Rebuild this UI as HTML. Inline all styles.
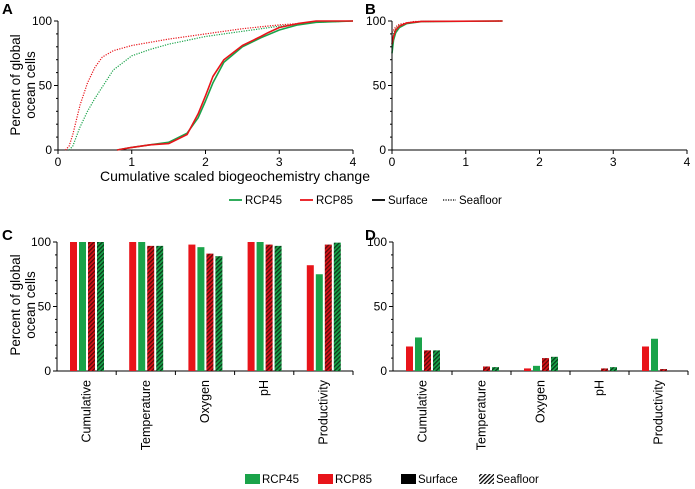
<!DOCTYPE html>
<html><head><meta charset="utf-8"><style>
body{margin:0;background:#fff;}
svg{display:block;font-family:"Liberation Sans",Arial,sans-serif;}
</style></head><body>
<svg id="fig" width="695" height="489" viewBox="0 0 695 489" xmlns="http://www.w3.org/2000/svg">
<defs>
<pattern id="hr" patternUnits="userSpaceOnUse" width="3" height="3" patternTransform="rotate(45)"><rect width="3" height="3" fill="#d8141a"/><rect width="1.3" height="3" fill="#5a0a0a"/></pattern>
<pattern id="hg" patternUnits="userSpaceOnUse" width="3" height="3" patternTransform="rotate(45)"><rect width="3" height="3" fill="#1aa34a"/><rect width="1.3" height="3" fill="#0a3a1a"/></pattern>
<pattern id="hk" patternUnits="userSpaceOnUse" width="3" height="3" patternTransform="rotate(45)"><rect width="3" height="3" fill="#fff"/><rect width="1.3" height="3" fill="#000"/></pattern>
</defs>
<g id="root"></g>
</svg>
<script>
// ---- Panel A data (x values, percent) ----
const aSurf45X=[0.8,1.0,1.25,1.5,1.75,1.9,2.0,2.1,2.25,2.5,2.75,3.0,3.25,3.5,4.0];
const aSurf45Y=[0,2,4,6,13,25,38,52,68,80,87,93,97,99,100];
const aSurf85X=[0.8,1.0,1.25,1.5,1.75,1.9,2.0,2.1,2.25,2.5,2.75,2.85,3.0,3.25,3.5,4.0];
const aSurf85Y=[0,2,4,5,12,28,42,57,70,81,88,91,95,98,100,100];
const aSea85X=[0.1,0.15,0.2,0.3,0.4,0.5,0.6,0.75,1.0,1.5,2.0,2.5,3.0,3.5,4.0];
const aSea85Y=[0,3,12,35,52,64,72,77,81,86,90,94,97,99,100];
const aSea45X=[0.15,0.2,0.3,0.4,0.5,0.75,1.0,1.25,1.5,2.0,2.5,3.0,3.5,4.0];
const aSea45Y=[0,3,18,30,40,62,73,78,82,88,92,96,99,100];
// ---- Panel B data ----
const bSurf45X=[0,0.02,0.05,0.1,0.2,0.4,1.5];
const bSurf45Y=[75,85,91,95,98,99.5,100];
const bSurf85X=[0,0.02,0.05,0.1,0.2,0.4,1.5];
const bSurf85Y=[82,88,93,96,98.5,99.7,100];
const bSea45X=[0,0.05,0.1,0.3,1.5];
const bSea45Y=[88,94,97,99.5,100];
const bSea85X=[0,0.05,0.1,0.3,1.5];
const bSea85Y=[91,95.5,97.5,99.6,100];
// ---- Bar data ----
const categories=["Cumulative","Temperature","Oxygen","pH","Productivity"];
const cRCP85Surf=[100,100,98,100,82];
const cRCP45Surf=[100,100,96,100,75];
const cRCP85Sea=[100,97,91,98,98];
const cRCP45Sea=[100,97,89,97,99.5];
const dRCP85Surf=[19,0,2,0,19];
const dRCP45Surf=[26,0,4,0,25];
const dRCP85Sea=[16,3.5,10,2,1.5];
const dRCP45Sea=[16,3,11,3,0];
const yTicks=[0,50,100];
const xTicks=[0,1,2,3,4];

const NS="http://www.w3.org/2000/svg";
const root=document.getElementById('root');
function mk(tag,attrs,parent){const e=document.createElementNS(NS,tag);for(const k in attrs)e.setAttribute(k,attrs[k]);(parent||root).appendChild(e);return e;}
function txt(s,attrs,parent){const e=mk('text',attrs,parent);e.textContent=s;return e;}
const RED="#e8141a",GREEN="#1aa34a";

function yAxis(x0,yTop,yBot,name){
  const g=mk('g',{});
  
  
  mk('line',{x1:x0,y1:yTop,x2:x0,y2:yBot,stroke:'#000','stroke-width':1},g);
  for(let v=0;v<=100;v+=10){const y=yBot-(yBot-yTop)*v/100;mk('line',{x1:x0-(v%50?2:4),y1:y,x2:x0,y2:y,stroke:'#000'},g);}
  yTicks.forEach(v=>{const y=yBot-(yBot-yTop)*v/100;const t=txt(String(v),{x:x0-6,y:y+4,'font-size':12,'text-anchor':'end'},g);
    
    });
}
function linePanel(x0,x4,yTop,yBot,series,label,pname,lx){
  const sx=v=>x0+(x4-x0)*v/4, sy=v=>yBot-(yBot-yTop)*v/100;
  const g=mk('g',{});
  
  
  yAxis(x0,yTop,yBot,pname+'-y-axis');
  mk('line',{x1:x0,y1:yBot,x2:x4,y2:yBot,stroke:'#000'},g);
  xTicks.forEach(v=>{mk('line',{x1:sx(v),y1:yBot,x2:sx(v),y2:yBot+4,stroke:'#000'},g);
    const t=txt(String(v),{x:sx(v),y:yBot+16,'font-size':12,'text-anchor':'middle'},g);
    
    });
  series.forEach(s=>{const d=s.x.map((v,i)=>(i?'L':'M')+sx(v).toFixed(1)+','+sy(s.y[i]).toFixed(1)).join('');
    const p=mk('path',{d:d,fill:'none',stroke:s.c,'stroke-width':s.dot?1.2:1.6,'stroke-linejoin':'round','stroke-dasharray':s.dot?'1.2,1.3':'none'},g);
    
    });
  const l=txt(label,{x:lx,y:yTop-7,'font-size':15,'font-weight':'bold'},g);
  
  
}
linePanel(58,353,21,150,[
 {x:aSea45X,y:aSea45Y,c:GREEN,dot:1,n:'line-rcp45-seafloor'},
 {x:aSea85X,y:aSea85Y,c:RED,dot:1,n:'line-rcp85-seafloor'},
 {x:aSurf45X,y:aSurf45Y,c:GREEN,n:'line-rcp45-surface'},
 {x:aSurf85X,y:aSurf85Y,c:RED,n:'line-rcp85-surface'}],'A','panel-a',2);
linePanel(392,687,21,150,[
 {x:bSea45X,y:bSea45Y,c:GREEN,dot:1,n:'line-rcp45-seafloor'},
 {x:bSea85X,y:bSea85Y,c:RED,dot:1,n:'line-rcp85-seafloor'},
 {x:bSurf45X,y:bSurf45Y,c:GREEN,n:'line-rcp45-surface'},
 {x:bSurf85X,y:bSurf85Y,c:RED,n:'line-rcp85-surface'}],'B','panel-b',365);

function barPanel(x0,x1,yTop,yBot,sets,label,pname,lx){
  const g=mk('g',{});
  
  
  yAxis(x0,yTop,yBot,pname+'-y-axis');
  mk('line',{x1:x0,y1:yBot,x2:x1,y2:yBot,stroke:'#000'},g);
  const cw=(x1-x0)/categories.length, sy=v=>yBot-(yBot-yTop)*v/100;
  categories.forEach((c,i)=>{
    const cx=x0+cw*(i+1);
    mk('line',{x1:cx,y1:yBot,x2:cx,y2:yBot+4,stroke:'#000'},g);
    const mx=x0+cw*i+cw/2;
    const t=txt(c,{x:0,y:0,'font-size':12.5,'text-anchor':'end',transform:`translate(${mx+4},${yBot+9}) rotate(-90)`},g);
    
    
    sets.forEach((s,j)=>{const bx=x0+cw*i+13+j*9, v=s.v[i];
      const r=mk('rect',{x:bx,y:sy(v),width:7,height:yBot-sy(v),fill:s.f},g);
      
      });
  });
  const l=txt(label,{x:lx,y:yTop-2,'font-size':15,'font-weight':'bold'},g);
  
  
}
barPanel(57,353,242,371,[
 {v:cRCP85Surf,f:RED,n:'rcp85-surface'},{v:cRCP45Surf,f:GREEN,n:'rcp45-surface'},
 {v:cRCP85Sea,f:'url(#hr)',n:'rcp85-seafloor'},{v:cRCP45Sea,f:'url(#hg)',n:'rcp45-seafloor'}],'C','panel-c',2);
barPanel(393,688,242,371,[
 {v:dRCP85Surf,f:RED,n:'rcp85-surface'},{v:dRCP45Surf,f:GREEN,n:'rcp45-surface'},
 {v:dRCP85Sea,f:'url(#hr)',n:'rcp85-seafloor'},{v:dRCP45Sea,f:'url(#hg)',n:'rcp45-seafloor'}],'D','panel-d',365);

function ytitle(cy,name){const t=txt('',{transform:`translate(26,${cy}) rotate(-90)`,'font-size':13.5,'text-anchor':'middle'});
  
  
  const a=mk('tspan',{x:0,dy:-6},t);a.textContent='Percent of global';
  const b=mk('tspan',{x:0,dy:15},t);b.textContent='ocean cells';}
ytitle(85,'y-axis-title-top');
ytitle(305,'y-axis-title-bottom');
const xt=txt('Cumulative scaled biogeochemistry change',{x:235,y:181,'font-size':14,'text-anchor':'middle'});



const lg1=mk('g',{});


[[229,GREEN,'RCP45',0],[300,RED,'RCP85',0],[372,'#000','Surface',0],[443,'#000','Seafloor',1]].forEach(e=>{
  const it=mk('g',{},lg1);
  
  
  mk('line',{x1:e[0],y1:200,x2:e[0]+13,y2:200,stroke:e[1],'stroke-width':e[3]?1.2:1.8,'stroke-dasharray':e[3]?'1.2,1.3':'none'},it);
  txt(e[2],{x:e[0]+16,y:204,'font-size':11.5},it);});
const lg2=mk('g',{});


[[245,GREEN,'RCP45'],[318,RED,'RCP85'],[401,'#000','Surface'],[479,'url(#hk)','Seafloor']].forEach(e=>{
  const it=mk('g',{},lg2);
  
  
  mk('rect',{x:e[0],y:474,width:15,height:10,fill:e[1]},it);
  txt(e[2],{x:e[0]+17,y:483,'font-size':11.5},it);});
</script>
</body></html>
